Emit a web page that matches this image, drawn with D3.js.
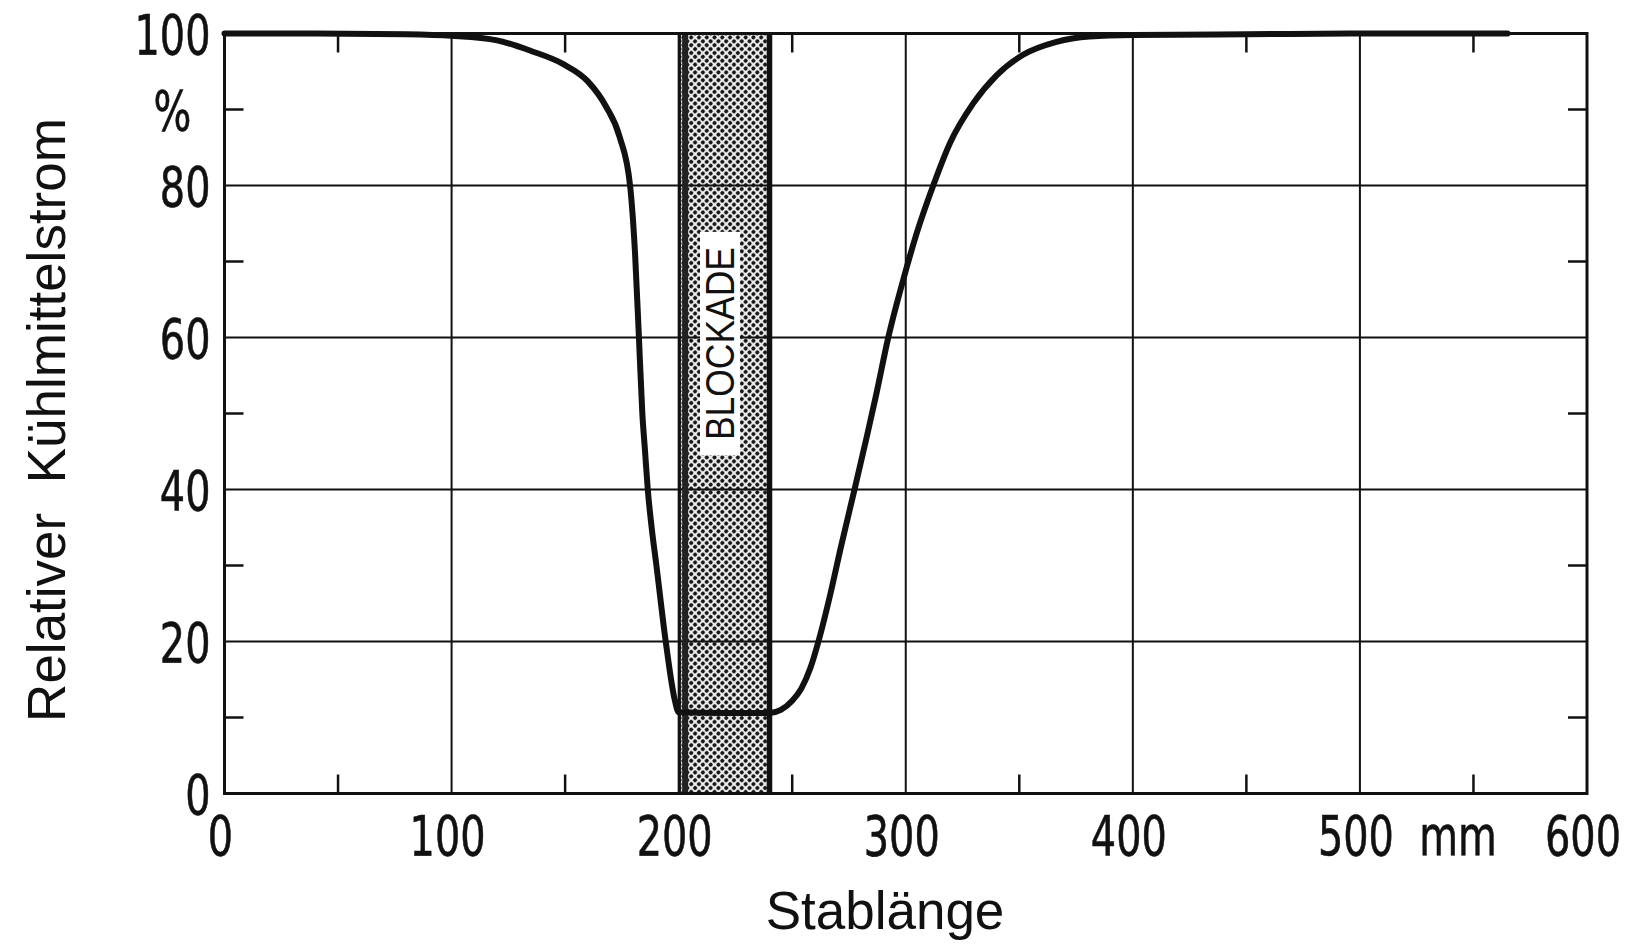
<!DOCTYPE html>
<html>
<head>
<meta charset="utf-8">
<script src="https://cdnjs.cloudflare.com/ajax/libs/d3/7.8.5/d3.min.js"></script>
<style>
  body { margin: 0; background: #fff; }
  .tick-num { font-family: "DejaVu Sans Condensed", "DejaVu Sans", sans-serif; font-size: 56px; fill: #111; stroke: #111; stroke-width: 0.6px; }
  .axis-title { font-family: "Liberation Sans", Arial, sans-serif; font-size: 53px; fill: #111; }
  .blk-label { font-family: "Liberation Sans", Arial, sans-serif; font-size: 40px; fill: #111; }
</style>
</head>
<body>
<div id="chartSVG"></div>
<script>
// Stablänge (mm) and relativer Kühlmittelstrom (%)
var stabX = [0, 40, 80, 100, 120, 135, 149, 160, 168, 174, 178.6, 180.8, 182.5, 184.0, 185.2, 186.4, 188.1, 190.2, 194.3, 198.3, 200,
  220, 240, 245, 250, 254, 258, 262, 267, 271.5, 277.6, 282.8, 287, 292.3, 298.9, 304.8, 312.1, 319.5, 329.7, 340, 351.7,
  366.4, 381, 400, 450, 500, 565];
var flowY = [100, 100, 99.9, 99.7, 99.1, 97.7, 96, 93.7, 90.4, 86.4, 80, 71, 60, 50, 45, 40, 35, 30, 20, 12.3, 10.7,
  10.6, 10.6, 11.0, 12.2, 13.8, 16.5, 20.5, 26.5, 32.5, 40.2, 46.9, 52.5, 60, 67.6, 73.7, 80, 85.6, 90.8, 94.5, 97.2,
  98.9, 99.6, 99.8, 99.9, 100, 100];

// axes
var xTicks = [0, 100, 200, 300, 400, 500, 600];
var xTickLabels = ["0", "100", "200", "300", "400", "500", "600"];
var xMinor = [50, 150, 250, 350, 450, 550];
var yTicks = [0, 20, 40, 60, 80, 90, 100];
var yTickLabels = ["0", "20", "40", "60", "80", "%", "100"];
var yMinor = [10, 30, 50, 70, 90];
var xGrid = [100, 200, 300, 400, 500];
var yGrid = [20, 40, 60, 80];

// blockade zone (mm) and its label box (mm / %)
var blockade = [200, 240];
var blockadeBoxX = [209.4, 227];
var blockadeBoxY = [44.5, 73.9];

drawChart("#chartSVG");

function drawChart(elm) {
  var margin = { top: 33.5, right: 50, bottom: 150.5, left: 224.5 },
    width = 1637 - margin.left - margin.right,
    height = 944 - margin.top - margin.bottom;

  var svg = d3.select(elm)
    .append("svg")
    .attr("width", 1637)
    .attr("height", 944);

  var g = svg.append("g")
    .attr("transform", `translate(${margin.left},${margin.top})`);

  var x = d3.scaleLinear().domain([0, 600]).range([0, width]);
  var y = d3.scaleLinear().domain([0, 100]).range([height, 0]);
  var squeeze = 0.79; // the original digits are narrow

  // halftone for the blockade
  var pat = svg.append("defs").append("pattern")
    .attr("id", "halftone")
    .attr("patternUnits", "userSpaceOnUse")
    .attr("width", 5.5)
    .attr("height", 5.5)
    .attr("patternTransform", "rotate(45)");
  pat.append("rect").attr("width", 5.5).attr("height", 5.5).attr("fill", "#eeeeee");
  pat.append("circle").attr("cx", 2.75).attr("cy", 2.75).attr("r", 2.0).attr("fill", "#161616");

  g.append("rect")
    .attr("x", x(blockade[0]))
    .attr("y", y(100))
    .attr("width", x(blockade[1]) - x(blockade[0]))
    .attr("height", y(0) - y(100))
    .attr("fill", "url(#halftone)");

  // grid
  g.selectAll(".vgrid")
    .data(xGrid)
    .join("line")
    .attr("x1", d => x(d)).attr("x2", d => x(d))
    .attr("y1", y(0)).attr("y2", y(100))
    .attr("stroke", "#111")
    .attr("stroke-width", 2);
  g.selectAll(".hgrid")
    .data(yGrid)
    .join("line")
    .attr("x1", x(0)).attr("x2", x(600))
    .attr("y1", d => y(d)).attr("y2", d => y(d))
    .attr("stroke", "#111")
    .attr("stroke-width", 2);

  // minor ticks on all four sides
  var tlen = 19;
  [y(0), y(100)].forEach(function (yy, i) {
    g.selectAll(null)
      .data(xMinor)
      .join("line")
      .attr("x1", d => x(d)).attr("x2", d => x(d))
      .attr("y1", yy).attr("y2", i == 0 ? yy - tlen : yy + tlen)
      .attr("stroke", "#111")
      .attr("stroke-width", 2.5);
  });
  [x(0), x(600)].forEach(function (xx, i) {
    g.selectAll(null)
      .data(yMinor)
      .join("line")
      .attr("y1", d => y(d)).attr("y2", d => y(d))
      .attr("x1", xx).attr("x2", i == 0 ? xx + tlen : xx - tlen)
      .attr("stroke", "#111")
      .attr("stroke-width", 2.5);
  });

  // blockade edges
  g.append("line")
    .attr("x1", x(blockade[0]) + 1).attr("x2", x(blockade[0]) + 1)
    .attr("y1", y(0)).attr("y2", y(100))
    .attr("stroke", "#111").attr("stroke-width", 2.5);
  g.append("line")
    .attr("x1", x(blockade[0]) + 6.5).attr("x2", x(blockade[0]) + 6.5)
    .attr("y1", y(0)).attr("y2", y(100))
    .attr("stroke", "#222").attr("stroke-width", 6);
  g.append("line")
    .attr("x1", x(blockade[1])).attr("x2", x(blockade[1]))
    .attr("y1", y(0)).attr("y2", y(100))
    .attr("stroke", "#111").attr("stroke-width", 5.5);

  // label box
  g.append("rect")
    .attr("x", x(blockadeBoxX[0]))
    .attr("y", y(blockadeBoxY[1]))
    .attr("width", x(blockadeBoxX[1]) - x(blockadeBoxX[0]))
    .attr("height", y(blockadeBoxY[0]) - y(blockadeBoxY[1]))
    .attr("fill", "#fff");
  g.append("text")
    .attr("class", "blk-label")
    .attr("transform", `translate(${x((blockadeBoxX[0] + blockadeBoxX[1]) / 2)},${y((blockadeBoxY[0] + blockadeBoxY[1]) / 2)}) rotate(-90)`)
    .attr("text-anchor", "middle")
    .attr("dy", "0.36em")
    .attr("textLength", 193)
    .attr("lengthAdjust", "spacingAndGlyphs")
    .text("BLOCKADE");

  // the curve
  var pts = stabX.map((d, i) => [d, flowY[i]]);
  g.append("path")
    .datum(pts)
    .attr("fill", "none")
    .attr("stroke", "#111")
    .attr("stroke-width", 6)
    .attr("stroke-linejoin", "round")
    .attr("stroke-linecap", "round")
    .attr("d", d3.line()
      .x(d => x(d[0]))
      .y(d => y(d[1]))
      .curve(d3.curveMonotoneX));

  // frame
  g.append("rect")
    .attr("x", 0).attr("y", 0)
    .attr("width", width).attr("height", height)
    .attr("fill", "none")
    .attr("stroke", "#111")
    .attr("stroke-width", 3);

  // tick labels
  g.selectAll(".ylab")
    .data(yTicks)
    .join("text")
    .attr("class", "tick-num")
    .attr("transform", (d, i) => `translate(${yTickLabels[i] == "%" ? -52 : -14},${y(d)}) scale(${squeeze},1)`)
    .attr("dy", "0.36em")
    .attr("text-anchor", (d, i) => yTickLabels[i] == "%" ? "middle" : "end")
    .text((d, i) => yTickLabels[i]);

  g.selectAll(".xlab")
    .data(xTicks)
    .join("text")
    .attr("class", "tick-num")
    .attr("transform", d => `translate(${x(d) - 4},${height + 61}) scale(${squeeze},1)`)
    .attr("text-anchor", "middle")
    .text((d, i) => xTickLabels[i]);
  g.append("text")
    .attr("class", "tick-num")
    .attr("transform", `translate(${x(545) - 4},${height + 61}) scale(${squeeze},1)`)
    .attr("text-anchor", "middle")
    .text("mm");

  // axis titles
  svg.append("text")
    .attr("class", "axis-title")
    .attr("x", 885)
    .attr("y", 929)
    .attr("text-anchor", "middle")
    .text("Stablänge");
  svg.append("text")
    .attr("class", "axis-title")
    .attr("transform", "translate(65,420) rotate(-90)")
    .attr("text-anchor", "middle")
    .attr("xml:space", "preserve")
    .style("white-space", "pre")
    .text("Relativer  Kühlmittelstrom");
}
</script>
</body>
</html>
